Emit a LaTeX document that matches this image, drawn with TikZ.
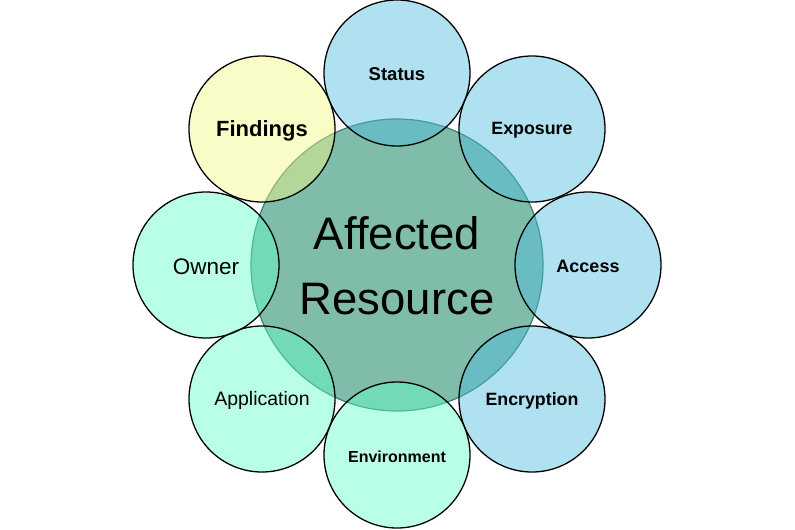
\documentclass[tikz,border=0pt]{standalone}
\usepackage{fontspec}
\setmainfont{Liberation Sans}
\definecolor{centerfill}{RGB}{128,188,170}
\definecolor{centerline}{RGB}{60,125,125}
\definecolor{bluefill}{RGB}{78,189,222}
\definecolor{greenfill}{RGB}{100,255,200}
\definecolor{yellowfill}{RGB}{244,249,133}
\begin{document}
\begin{tikzpicture}[x=1pt,y=-1pt,
  hub/.style={circle,minimum size=292pt,inner sep=0pt,fill=centerfill,draw=centerline,line width=1.2pt},
  sat/.style={circle,minimum size=146pt,inner sep=0pt,fill opacity=0.45,text opacity=1,draw=black,line width=1.3pt},
  bluesat/.style={sat,fill=bluefill},
  greensat/.style={sat,fill=greenfill},
  yellowsat/.style={sat,fill=yellowfill},
  lab/.style={font=\fontsize{#1}{#1}\selectfont\bfseries,yshift=-1.5pt},
  labr/.style={font=\fontsize{#1}{#1}\selectfont,yshift=-1.5pt}]
\useasboundingbox (0,0) rectangle (795,530);
\node[hub] (hub) at (397,265) {};
\node[bluesat] (status) at (397,73) {};
\node[bluesat] (exposure) at (532,129) {};
\node[bluesat] (access) at (588,265) {};
\node[bluesat] (encryption) at (532,399) {};
\node[greensat] (environment) at (397,455) {};
\node[greensat] (application) at (262,399) {};
\node[greensat] (owner) at (206,265) {};
\node[yellowsat] (findings) at (262,129) {};
\node[align=center,font=\fontsize{45.5}{65}\selectfont] (hubtext) at (397,266) {Affected\\Resource};
\node[lab=18.5] (t1) at (status) {Status};
\node[lab=17.8] (t2) at (exposure) {Exposure};
\node[lab=18] (t3) at (access) {Access};
\node[lab=17.8] (t4) at (encryption) {Encryption};
\node[lab=16] (t5) at (environment) {Environment};
\node[labr=19.5] (t6) at (application) {Application};
\node[labr=22.5] (t7) at (owner) {Owner};
\node[lab=22] (t8) at (findings) {Findings};
\end{tikzpicture}
\end{document}
